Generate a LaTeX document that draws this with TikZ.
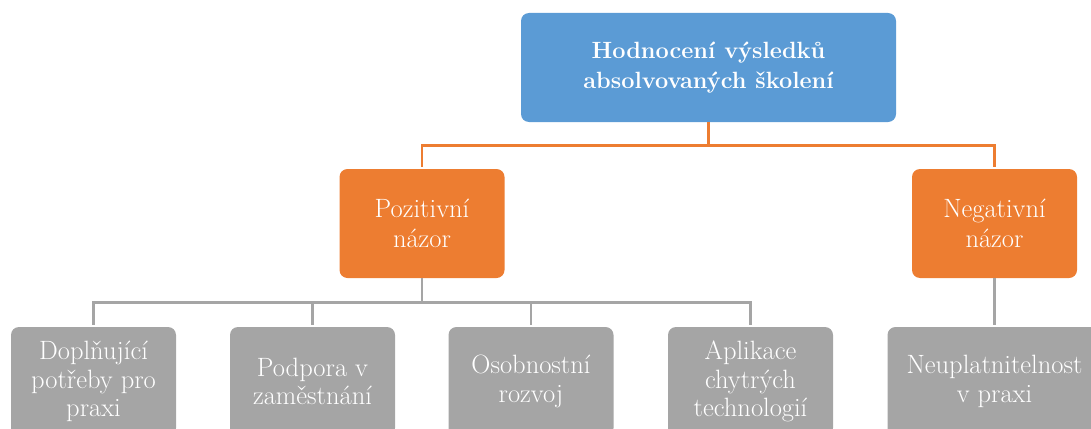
\documentclass[tikz,border=0pt]{standalone}
\usepackage{fontspec}
\definecolor{topblue}{HTML}{5B9BD5}
\definecolor{midorange}{HTML}{ED7D31}
\definecolor{leafgray}{HTML}{A5A5A5}
\tikzset{
  basebox/.style={rounded corners=8pt, text=white, align=center, inner sep=0pt,
    font=\fontsize{26.5}{28.5}\selectfont},
  topbox/.style={basebox, fill=topblue, minimum width=375pt, minimum height=109pt,
    font=\fontsize{23.5}{29.5}\selectfont\bfseries},
  midbox/.style={basebox, fill=midorange, minimum width=165pt, minimum height=109pt,
    font=\fontsize{26.5}{30}\selectfont},
  leafbox/.style={basebox, fill=leafgray, minimum width=165pt, minimum height=109pt},
  oline/.style={draw=midorange, line width=2.8pt, shorten >=2pt},
  gline/.style={draw=leafgray, line width=2.8pt, shorten >=2pt},
}
\begin{document}
\begin{tikzpicture}[x=1pt,y=-1pt]
\useasboundingbox (0,0) rectangle (1091,428);
\clip (0,0) rectangle (1091,428);
\node[topbox] (top) at (708.5,67.5) {Hodnocení výsledků\\absolvovaných školení};
\node[midbox] (poz) at (422,223.5) {Pozitivní\\názor};
\node[midbox] (neg) at (994.5,223.5) {Negativní\\názor};
\node[leafbox] (l1) at (93.5,381.5) {Doplňující\\potřeby pro\\praxi};
\node[leafbox] (l2) at (312.5,381.5) {Podpora v\\zaměstnání};
\node[leafbox] (l3) at (531,381.5) {Osobnostní\\rozvoj};
\node[leafbox] (l4) at (750.5,381.5) {Aplikace\\chytrých\\technologií};
\node[leafbox, minimum width=214pt] (l5) at (994.5,381.5) {Neuplatnitelnost\\v praxi};
\draw[oline] (top.south) -- ++(0,23) -| (poz.north);
\draw[oline] (top.south) -- ++(0,23) -| (neg.north);
\foreach \n in {l1,l2,l3,l4}{
  \draw[gline] (poz.south) -- ++(0,24) -| (\n.north);
}
\draw[gline] (neg.south) -- (l5.north);
\end{tikzpicture}
\end{document}
